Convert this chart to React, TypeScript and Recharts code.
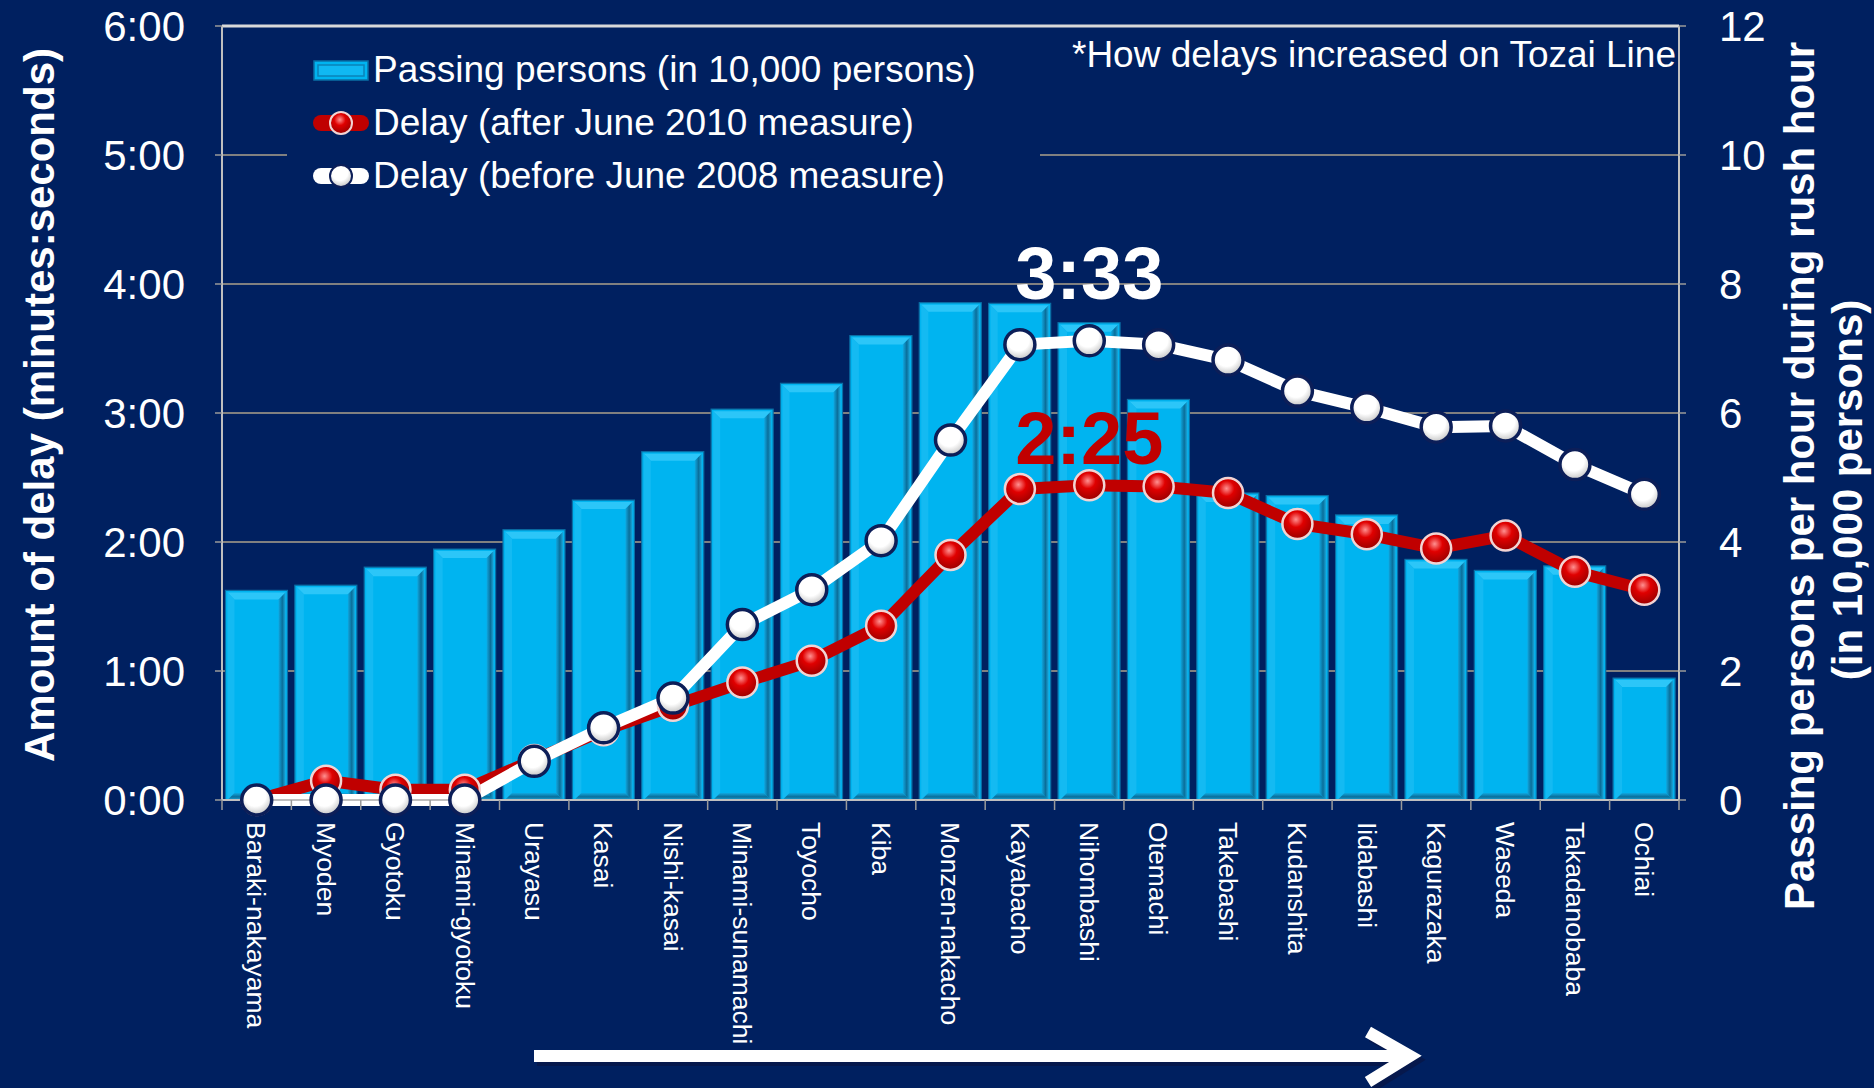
import {
  ComposedChart,
  Bar,
  Line,
  XAxis,
  YAxis,
  CartesianGrid,
  Legend,
  ReferenceLine,
  LabelList,
} from "recharts";

const stations = [
  "Baraki-nakayama",
  "Myoden",
  "Gyotoku",
  "Minami-gyotoku",
  "Urayasu",
  "Kasai",
  "Nishi-kasai",
  "Minami-sunamachi",
  "Toyocho",
  "Kiba",
  "Monzen-nakacho",
  "Kayabacho",
  "Nihombashi",
  "Otemachi",
  "Takebashi",
  "Kudanshita",
  "Iidabashi",
  "Kagurazaka",
  "Waseda",
  "Takadanobaba",
  "Ochiai",
];

// passing persons per hour in rush hour (in 10,000 persons), right axis
const passingPersons = [
  3.25, 3.33, 3.61, 3.89, 4.19, 4.65, 5.4, 6.06, 6.46, 7.2, 7.71, 7.7, 7.4, 6.21, 4.76, 4.72, 4.42, 3.73,
  3.56, 3.63, 1.89,
];

// delay in minutes (decimal), left axis
const delayAfter2010 = [
  0, 0.15, 0.08, 0.08, 0.31, 0.54, 0.73, 0.91, 1.08, 1.35, 1.9, 2.41, 2.44, 2.43, 2.38, 2.14, 2.06, 1.95,
  2.05, 1.77, 1.63,
];
const delayBefore2008 = [
  0, 0, 0, 0, 0.3, 0.56, 0.79, 1.36, 1.63, 2.01, 2.79, 3.53, 3.56, 3.53, 3.41, 3.17, 3.04, 2.89, 2.9,
  2.6, 2.37,
];

const delayTicks = [0, 1, 2, 3, 4, 5, 6];
const passingTicks = [0, 2, 4, 6, 8, 10, 12];

const legendLabels = [
  "Passing persons (in 10,000 persons)",
  "Delay (after June 2010 measure)",
  "Delay (before June 2008 measure)",
];
const noteText = "*How delays increased on Tozai Line";
const leftTitle = "Amount of delay (minutes:seconds)";
const rightTitle = ["Passing persons per hour during rush hour", "(in 10,000 persons)"];
const peakIndex = 12;
const peakBefore = "3:33";
const peakAfter = "2:25";

const data = stations.map((name, i) => ({
  name,
  passing: passingPersons[i],
  after: delayAfter2010[i],
  before: delayBefore2008[i],
}));

const W = 1874;
const H = 1088;
const PLOT_LEFT = 222;
const PLOT_RIGHT = 1679;
const PLOT_TOP = 26;
const PLOT_BOTTOM = 800;
const STEP = (PLOT_RIGHT - PLOT_LEFT) / stations.length;
const FONT = '"Liberation Sans", Arial, sans-serif';
const NAVY = "#002060";
const RED = "#C00000";
const CYAN = "#00B4F0";
const AXIS = "#BFBFBF";

function fmtDelay(v: number) {
  const m = Math.floor(v);
  const s = Math.round((v - m) * 60);
  return `${m}:${String(s).padStart(2, "0")}`;
}

// 3D bevelled bar like the Office "bevel" effect
function BevelBar(props: any) {
  const { x, y, width: w, height: h } = props;
  if (!h || h <= 0) return null;
  const i = 2;
  const b = 7;
  const x0 = x + i;
  const y0 = y + i;
  const x1 = x + w - i;
  const y1 = y + h;
  return (
    <g>
      <rect x={x} y={y} width={w} height={h} fill={CYAN} stroke="#0A6FA5" strokeWidth={1.2} />
      <polygon points={`${x0},${y0} ${x1},${y0} ${x1 - b},${y0 + b} ${x0 + b},${y0 + b}`} fill="#2CC6F8" />
      <polygon points={`${x0},${y0} ${x0 + b},${y0 + b} ${x0 + b},${y1 - b} ${x0},${y1}`} fill="#14BAF2" />
      <polygon points={`${x1},${y0} ${x1},${y1} ${x1 - b},${y1 - b} ${x1 - b},${y0 + b}`} fill="url(#bevelRight)" />
      <polygon points={`${x0},${y1} ${x1},${y1} ${x1 - b},${y1 - b} ${x0 + b},${y1 - b}`} fill="url(#bevelBottom)" />
    </g>
  );
}

const renderRedDot = (p: any) => (
  <circle key={`r${p.index}`} cx={p.cx} cy={p.cy} r={15} fill="url(#redBall)" stroke="#F2D4D4" strokeWidth={2.5} />
);

const renderWhiteDot = (p: any) => (
  <circle key={`w${p.index}`} cx={p.cx} cy={p.cy} r={15} fill="url(#whiteBall)" stroke="#0C1E58" strokeWidth={3.5} />
);

function StationTick(props: any) {
  const { x, y, payload, index } = props;
  const axisY = y - 22;
  const last = index === stations.length - 1;
  return (
    <g>
      <line x1={x - STEP / 2} x2={x - STEP / 2} y1={axisY} y2={axisY + 10} stroke="#9A9A9A" strokeWidth={1.5} />
      {last && (
        <line x1={x + STEP / 2} x2={x + STEP / 2} y1={axisY} y2={axisY + 10} stroke="#9A9A9A" strokeWidth={1.5} />
      )}
      <text
        x={x}
        y={y}
        dy="0.35em"
        transform={`rotate(90, ${x}, ${y})`}
        textAnchor="start"
        fill="#fff"
        fontSize={26.5}
        fontFamily={FONT}
      >
        {payload.value}
      </text>
    </g>
  );
}

function LegendIcon({ kind }: { kind: number }) {
  if (kind === 0) {
    return (
      <svg width={56} height={30}>
        <rect x={1} y={6} width={54} height={19} fill={CYAN} stroke="#0A6FA5" strokeWidth={1.5} />
        <rect x={5} y={10} width={46} height={11} fill="#10B8F2" stroke="#0A83B8" strokeWidth={1.5} />
      </svg>
    );
  }
  const red = kind === 1;
  return (
    <svg width={56} height={30}>
      <line x1={8} x2={48} y1={15} y2={15} stroke={red ? RED : "#fff"} strokeWidth={16} strokeLinecap="round" />
      <circle
        cx={28}
        cy={15}
        r={11}
        fill={red ? "url(#redBallL)" : "url(#whiteBallL)"}
        stroke={red ? "#F2D4D4" : "#0C1E58"}
        strokeWidth={2}
      />
    </svg>
  );
}

function LegendBox() {
  return (
    <div
      style={{
        background: NAVY,
        width: 753,
        boxSizing: "border-box",
        paddingLeft: 26,
        paddingBottom: 8,
        fontFamily: FONT,
        fontSize: 37,
        color: "#fff",
      }}
    >
      <svg width={0} height={0} style={{ position: "absolute" }}>
        <defs>
          <radialGradient id="redBallL" cx="45%" cy="35%" r="65%">
            <stop offset="0%" stopColor="#FF9090" />
            <stop offset="40%" stopColor="#E00000" />
            <stop offset="100%" stopColor="#9A0000" />
          </radialGradient>
          <radialGradient id="whiteBallL" cx="45%" cy="35%" r="65%">
            <stop offset="0%" stopColor="#FFFFFF" />
            <stop offset="55%" stopColor="#FFFFFF" />
            <stop offset="100%" stopColor="#C4C4C4" />
          </radialGradient>
        </defs>
      </svg>
      {legendLabels.map((label, i) => (
        <div key={label} style={{ display: "flex", alignItems: "center", height: 53, whiteSpace: "nowrap" }}>
          <LegendIcon kind={i} />
          <span style={{ marginLeft: 4, lineHeight: 1 }}>{label}</span>
        </div>
      ))}
    </div>
  );
}

const beforePeakLabel = (p: any) =>
  p.index === peakIndex ? (
    <text
      key="pb"
      x={p.x}
      y={p.y - 42}
      textAnchor="middle"
      fill="#fff"
      fontSize={74}
      fontWeight="bold"
      fontFamily={FONT}
    >
      {peakBefore}
    </text>
  ) : null;

const afterPeakLabel = (p: any) =>
  p.index === peakIndex ? (
    <text
      key="pa"
      x={p.x}
      y={p.y - 21}
      textAnchor="middle"
      fill={RED}
      fontSize={74}
      fontWeight="bold"
      fontFamily={FONT}
    >
      {peakAfter}
    </text>
  ) : null;

export default function App() {
  return (
    <div
      style={{
        position: "fixed",
        left: 0,
        top: 0,
        width: W,
        height: H,
        background: NAVY,
        overflow: "hidden",
      }}
    >
      <ComposedChart
        width={W}
        height={H}
        data={data}
        margin={{ top: PLOT_TOP, right: 0, bottom: 0, left: 0 }}
        barCategoryGap="5%"
      >
        <defs>
          <radialGradient id="redBall" cx="45%" cy="35%" r="65%">
            <stop offset="0%" stopColor="#FF9090" />
            <stop offset="40%" stopColor="#E00000" />
            <stop offset="100%" stopColor="#9A0000" />
          </radialGradient>
          <radialGradient id="whiteBall" cx="45%" cy="35%" r="65%">
            <stop offset="0%" stopColor="#FFFFFF" />
            <stop offset="55%" stopColor="#FFFFFF" />
            <stop offset="100%" stopColor="#C4C4C4" />
          </radialGradient>
          <linearGradient id="bevelRight" x1="0" y1="0" x2="1" y2="0">
            <stop offset="0%" stopColor="#10A8E0" />
            <stop offset="55%" stopColor="#0A6E9A" />
            <stop offset="100%" stopColor="#1BA8DC" />
          </linearGradient>
          <linearGradient id="bevelBottom" x1="0" y1="0" x2="0" y2="1">
            <stop offset="0%" stopColor="#10A8E0" />
            <stop offset="55%" stopColor="#0A6E9A" />
            <stop offset="100%" stopColor="#1BA8DC" />
          </linearGradient>
        </defs>
        <CartesianGrid vertical={false} stroke="#808080" strokeWidth={2} yAxisId="left" />
        <XAxis
          dataKey="name"
          interval={0}
          height={H - PLOT_BOTTOM}
          tickSize={8}
          tickMargin={14}
          tickLine={false}
          axisLine={{ stroke: AXIS, strokeWidth: 2 }}
          tick={<StationTick />}
        />
        <YAxis
          yAxisId="left"
          domain={[0, 6]}
          ticks={delayTicks}
          width={PLOT_LEFT}
          tickSize={7}
          tickMargin={30}
          tickFormatter={fmtDelay}
          axisLine={{ stroke: AXIS, strokeWidth: 2 }}
          tickLine={{ stroke: "#9A9A9A", strokeWidth: 1.5 }}
          tick={{ fill: "#fff", fontSize: 42, fontFamily: FONT }}
          label={{
            content: () => (
              <text
                x={39}
                y={405}
                transform="rotate(-90, 39, 405)"
                textAnchor="middle"
                dominantBaseline="central"
                fill="#fff"
                fontSize={42}
                fontWeight="bold"
                fontFamily={FONT}
              >
                {leftTitle}
              </text>
            ),
          }}
        />
        <YAxis
          yAxisId="right"
          orientation="right"
          domain={[0, 12]}
          ticks={passingTicks}
          width={W - PLOT_RIGHT}
          tickSize={7}
          tickMargin={33}
          axisLine={{ stroke: AXIS, strokeWidth: 2 }}
          tickLine={{ stroke: "#9A9A9A", strokeWidth: 1.5 }}
          tick={{ fill: "#fff", fontSize: 42, fontFamily: FONT }}
          label={{
            content: () => (
              <g>
                <text
                  x={1799}
                  y={476}
                  transform="rotate(-90, 1799, 476)"
                  textAnchor="middle"
                  dominantBaseline="central"
                  fill="#fff"
                  fontSize={42}
                  fontWeight="bold"
                  fontFamily={FONT}
                >
                  {rightTitle[0]}
                </text>
                <text
                  x={1847}
                  y={490}
                  transform="rotate(-90, 1847, 490)"
                  textAnchor="middle"
                  dominantBaseline="central"
                  fill="#fff"
                  fontSize={42}
                  fontWeight="bold"
                  fontFamily={FONT}
                >
                  {rightTitle[1]}
                </text>
              </g>
            ),
          }}
        />
        <ReferenceLine yAxisId="left" y={6} stroke="#D9D9D9" strokeWidth={3} />
        <Legend
          layout="vertical"
          align="center"
          verticalAlign="middle"
          content={<LegendBox />}
          wrapperStyle={{ position: "absolute", left: 287, top: 43, width: 753 }}
        />
        <Bar
          yAxisId="right"
          dataKey="passing"
          name={legendLabels[0]}
          shape={<BevelBar />}
          isAnimationActive={false}
        />
        <Line
          yAxisId="left"
          dataKey="after"
          name={legendLabels[1]}
          stroke={RED}
          strokeWidth={12}
          strokeLinejoin="round"
          dot={renderRedDot}
          activeDot={false}
          isAnimationActive={false}
        >
          <LabelList dataKey="after" content={afterPeakLabel} />
        </Line>
        <Line
          yAxisId="left"
          dataKey="before"
          name={legendLabels[2]}
          stroke="#fff"
          strokeWidth={12}
          strokeLinejoin="round"
          dot={renderWhiteDot}
          activeDot={false}
          isAnimationActive={false}
        >
          <LabelList dataKey="before" content={beforePeakLabel} />
        </Line>
      </ComposedChart>
      <svg
        width={W}
        height={H}
        style={{ position: "absolute", left: 0, top: 0, pointerEvents: "none" }}
      >
        <text x={1676} y={67} textAnchor="end" fill="#fff" fontSize={37} fontFamily={FONT}>
          {noteText}
        </text>
        <g stroke="#0A1440" strokeWidth={12} strokeLinecap="butt" fill="none" opacity={0.6}>
          <line x1={537} y1={1060} x2={1408} y2={1060} />
          <polyline points="1372,1036 1414,1060 1372,1086" />
        </g>
        <g stroke="#fff" strokeWidth={12} strokeLinecap="butt" strokeLinejoin="miter" fill="none">
          <line x1={534} y1={1056} x2={1404} y2={1056} />
          <polyline points="1368,1032 1410,1056 1368,1082" />
        </g>
      </svg>
    </div>
  );
}
